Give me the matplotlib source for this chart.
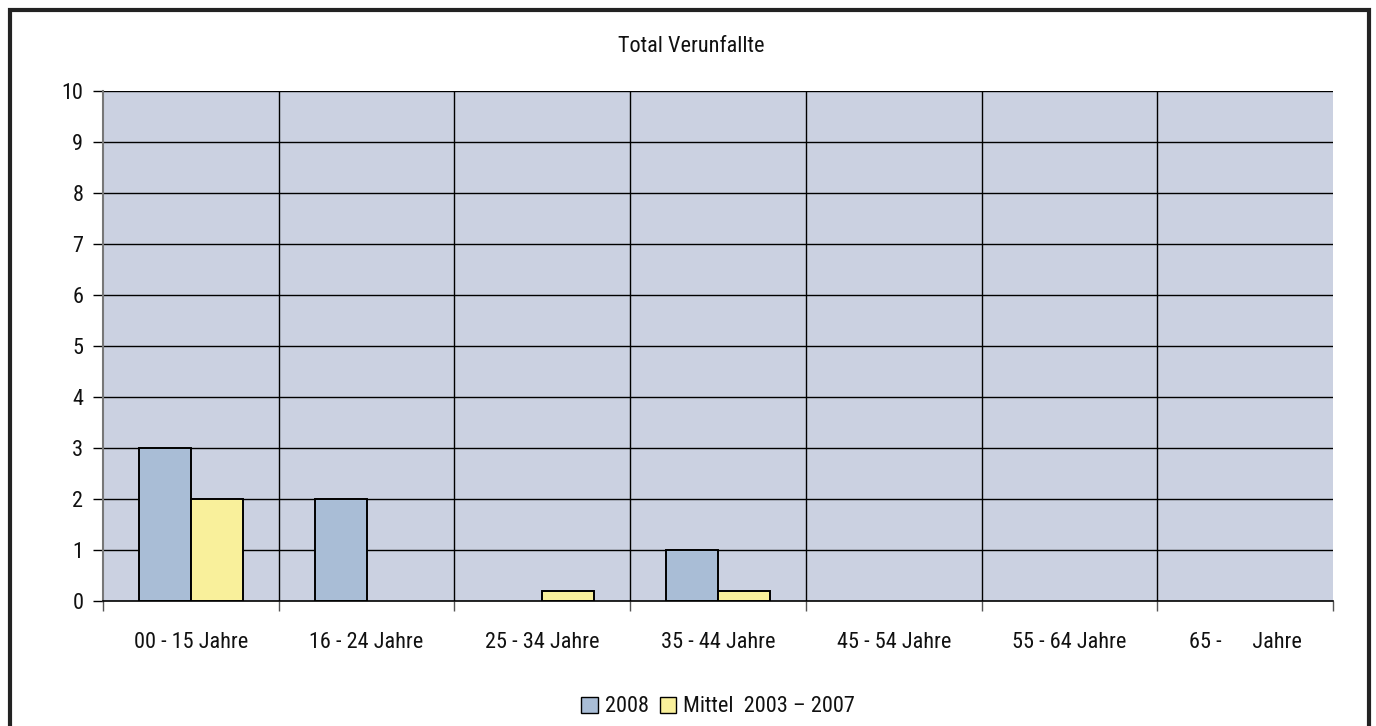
import numpy as np
import matplotlib.pyplot as plt
from matplotlib.patches import Rectangle

plt.rcParams['font.family'] = ['Roboto Condensed', 'PT Sans Narrow', 'Fira Sans Condensed',
                               'Liberation Sans Narrow', 'DejaVu Sans']

# Data
categories = ["00 - 15 Jahre", "16 - 24 Jahre", "25 - 34 Jahre", "35 - 44 Jahre",
              "45 - 54 Jahre", "55 - 64 Jahre", "65 -      Jahre"]
values_2008 = [3, 2, 0, 1, 0, 0, 0]
values_mittel = [2, 0, 0.2, 0.2, 0, 0, 0]

fig = plt.figure(figsize=(13.76, 7.26), dpi=100)
ax = fig.add_axes([103 / 1376, 1 - 601 / 726, 1230 / 1376, 510 / 726])

x = np.arange(len(categories))
width = 0.295

# Bars (zero bars are not drawn)
for xi, v in zip(x, values_2008):
    if v > 0:
        ax.bar(xi - width / 2, v, width, color="#a9bdd6", edgecolor="black", linewidth=1.4, zorder=3)
for xi, v in zip(x, values_mittel):
    if v > 0:
        ax.bar(xi + width / 2, v, width, color="#f9f09b", edgecolor="black", linewidth=1.4, zorder=3)

ax.set_facecolor("#cbd1e1")
ax.set_xlim(-0.5, len(categories) - 0.5)
ax.set_ylim(0, 10)
ax.set_yticks(range(0, 11))

# Grid: horizontal at each integer, vertical at category boundaries
for yv in range(1, 11):
    ax.axhline(yv, color="black", linewidth=1, zorder=1)
for b in np.arange(0.5, len(categories) - 0.5, 1):
    ax.axvline(b, color="black", linewidth=1, zorder=1)

# Category ticks at boundaries, labels at centres
ax.set_xticks(np.arange(-0.5, len(categories), 1))
ax.set_xticklabels([])
ax.set_xticks(x, minor=True)
ax.set_xticklabels(categories, minor=True, fontsize=16, color="#111111")
ax.tick_params(axis="x", which="minor", length=0, pad=22)
ax.tick_params(axis="x", which="major", length=7, width=1, color="#555555")
ax.tick_params(axis="y", length=7.2, width=1, labelsize=16, pad=7, labelcolor="#111111")

for s in ["top", "right"]:
    ax.spines[s].set_visible(False)
ax.spines["left"].set_color("#777777")
ax.spines["left"].set_linewidth(1.5)
ax.spines["bottom"].set_color("black")
ax.spines["bottom"].set_linewidth(1.2)

fig.text(691 / 1376, 1 - 52 / 726, "Total Verunfallte", ha="center", va="baseline",
         fontsize=16, color="#111111")

# Legend
h1 = Rectangle((0, 0), 1, 1, facecolor="#a9bdd6", edgecolor="black")
h2 = Rectangle((0, 0), 1, 1, facecolor="#f9f09b", edgecolor="black")
fig.legend([h1, h2], ["2008", "Mittel  2003 \u2013 2007"], loc="center",
           bbox_to_anchor=(718 / 1376, 1 - 707 / 726), ncol=2, frameon=False,
           fontsize=16, handlelength=0.75, handleheight=0.75, handletextpad=0.3,
           columnspacing=0.5, labelcolor="#111111")

# Outer frame
fig.patches.append(Rectangle((10 / 1376, -0.05), 1359 / 1376, 1 - 10 / 726 + 0.05,
                             transform=fig.transFigure, fill=False,
                             edgecolor="#222222", linewidth=3))

fig.savefig("out.png", dpi=100)
